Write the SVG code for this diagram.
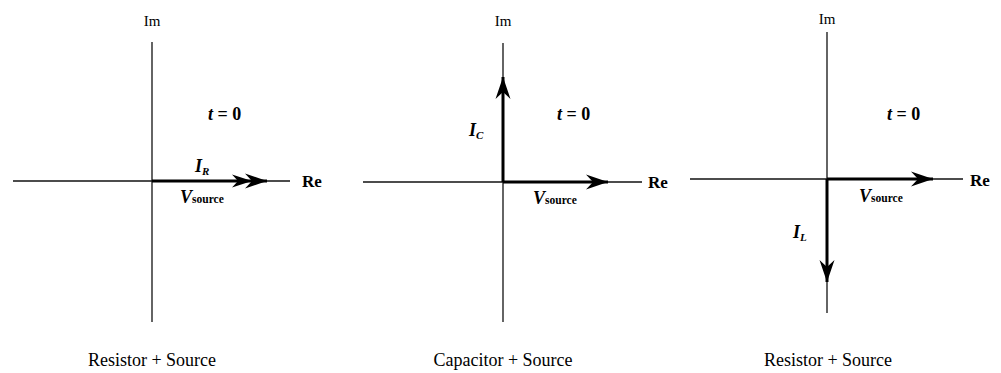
<svg xmlns="http://www.w3.org/2000/svg" width="1001" height="373" viewBox="0 0 1001 373">
<style>
.axis{stroke:#111;stroke-width:1.3;fill:none}
.vec{stroke:#000;stroke-width:3;fill:none}
.t{font-family:"Liberation Serif","Times New Roman",serif;fill:#000}
.im{font-size:15px}
.re{font-size:17px;font-weight:bold}
.t0{font-size:18px;font-weight:bold}
.cap{font-size:18px}
.sym{font-size:18px;font-weight:bold;font-style:italic}
.sub{font-size:11.5px;font-weight:bold;font-style:normal}
.subi{font-size:11px;font-weight:bold;font-style:italic}
</style>
<defs>
<marker id="ah" markerUnits="userSpaceOnUse" markerWidth="24" markerHeight="18" viewBox="-23 -9 24 18" refX="0" refY="0" orient="auto">
<path d="M0,0 L-22,-7.5 L-15,0 L-22,7.5 Z" fill="#000"/>
</marker>
</defs>
<rect width="1001" height="373" fill="#fff"/>
<g id="axes">
<line class="axis" x1="152" y1="42" x2="152" y2="322"/>
<line class="axis" x1="13" y1="181" x2="290" y2="181"/>
<line class="axis" x1="503" y1="43" x2="503" y2="322"/>
<line class="axis" x1="363" y1="182" x2="642" y2="182"/>
<line class="axis" x1="827" y1="32" x2="827" y2="313"/>
<line class="axis" x1="690" y1="179" x2="963" y2="179"/>
</g>
<g id="connectors">
<line class="vec" x1="152" y1="181" x2="267" y2="181" marker-end="url(#ah)"/>
<path d="M252,181 L232,174.5 L238,181 L232,187.5 Z" fill="#000"/>
<line class="vec" x1="503" y1="182" x2="608" y2="182" marker-end="url(#ah)"/>
<line class="vec" x1="503" y1="182" x2="503" y2="77" marker-end="url(#ah)"/>
<line class="vec" x1="827" y1="179" x2="933" y2="179" marker-end="url(#ah)"/>
<line class="vec" x1="827" y1="179" x2="827" y2="282" marker-end="url(#ah)"/>
</g>
<g id="panel1">
<text class="t im" x="152" y="26" text-anchor="middle">Im</text>
<text class="t t0" x="208" y="120"><tspan font-style="italic">t</tspan> = 0</text>
<text class="t sym" x="195" y="172">I<tspan class="subi" dy="3">R</tspan></text>
<text class="t re" x="302" y="187">Re</text>
<text class="t sym" x="180" y="203">V<tspan class="sub">source</tspan></text>
<text class="t cap" x="152" y="366" text-anchor="middle">Resistor + Source</text>
</g>
<g id="panel2">
<text class="t im" x="503" y="26" text-anchor="middle">Im</text>
<text class="t t0" x="557" y="120"><tspan font-style="italic">t</tspan> = 0</text>
<text class="t sym" x="469" y="136">I<tspan class="subi" dy="3">C</tspan></text>
<text class="t re" x="648" y="188">Re</text>
<text class="t sym" x="533" y="204">V<tspan class="sub">source</tspan></text>
<text class="t cap" x="503" y="366" text-anchor="middle">Capacitor + Source</text>
</g>
<g id="panel3">
<text class="t im" x="827" y="24" text-anchor="middle">Im</text>
<text class="t t0" x="887" y="120"><tspan font-style="italic">t</tspan> = 0</text>
<text class="t sym" x="793" y="238">I<tspan class="subi" dy="3">L</tspan></text>
<text class="t re" x="970" y="186">Re</text>
<text class="t sym" x="859" y="202">V<tspan class="sub">source</tspan></text>
<text class="t cap" x="828" y="366" text-anchor="middle">Resistor + Source</text>
</g>
</svg>
